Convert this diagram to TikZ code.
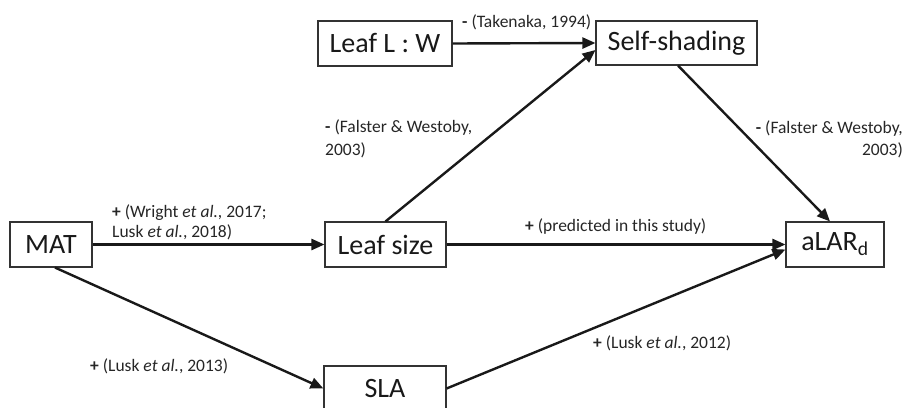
\documentclass[tikz,border=0pt]{standalone}
\usepackage{fontspec}
\setmainfont{Carlito}
\usetikzlibrary{arrows.meta}
\begin{document}
\begin{tikzpicture}[x=1pt,y=-1pt,
  box/.style={draw=black!80, line width=1.1pt, inner sep=0pt,
    font=\fontsize{28}{30}\selectfont, text=black!90},
  lbl/.style={inner sep=0pt, font=\fontsize{17.5}{21}\selectfont, text=black!85},
  conn/.style={line width=2.4pt, draw=black!90,
    -{Triangle[length=13pt,width=11pt]}}]
\useasboundingbox (0,0) rectangle (907,407);
% boxes
\node[box, minimum width=134pt, minimum height=45pt] (lw)  at (385,43.5) {Leaf L : W};
\node[box, minimum width=161pt, minimum height=44pt] (ss)  at (676.5,43) {Self-shading};
\node[box, minimum width=82pt,  minimum height=45pt] (mat) at (51,244.5) {MAT};
\node[box, minimum width=121pt, minimum height=45pt] (ls)  at (385.5,244.5) {Leaf size};
\node[box, minimum width=98pt,  minimum height=45pt] (al)  at (835,244.5) {aLAR\textsubscript{d}};
\node[box, minimum width=122pt, minimum height=45pt] (sla) at (385,388.5) {SLA};
% anchor coordinates
\coordinate (ssin) at ([yshift=-7pt]ss.west);
\coordinate (ssout) at ([xshift=1.5pt]ss.south);
\coordinate (altop) at ([xshift=-5pt]al.north);
\coordinate (allow) at ([yshift=-5pt]al.west);
\coordinate (matout) at ([xshift=4pt]mat.south);
% connectors
\draw[conn] (lw.east) -- (ss.west);
\draw[conn] (ls.north) -- (ssin);
\draw[conn] (ssout) -- (altop);
\draw[conn] (mat.east) -- (ls.west);
\draw[conn] (ls.east) -- (al.west);
\draw[conn] (matout) -- (sla.west);
\draw[conn] (sla.east) -- (allow);
% labels
\node[lbl, anchor=west] (l1) at (462,22) {\textbf{-} (Takenaka, 1994)};
\node[lbl, anchor=west, align=left, font=\fontsize{17.5}{23}\selectfont] (l2) at (325,139) {\textbf{-} (Falster \& Westoby,\\2003)};
\node[lbl, anchor=east, align=right, font=\fontsize{17.5}{22}\selectfont] (l3) at (903,139) {\textbf{-} (Falster \& Westoby,\\2003)};
\node[lbl, anchor=west, align=left, font=\fontsize{17.5}{20}\selectfont] (l4) at (112,222) {\textbf{+} (Wright \textit{et al.}, 2017;\\Lusk \textit{et al.}, 2018)};
\node[lbl, anchor=west] (l5) at (525,227) {\textbf{+} (predicted in this study)};
\node[lbl, anchor=west] (l6) at (90,366) {\textbf{+} (Lusk \textit{et al.}, 2013)};
\node[lbl, anchor=west] (l7) at (593,343) {\textbf{+} (Lusk \textit{et al.}, 2012)};
\end{tikzpicture}
\end{document}
